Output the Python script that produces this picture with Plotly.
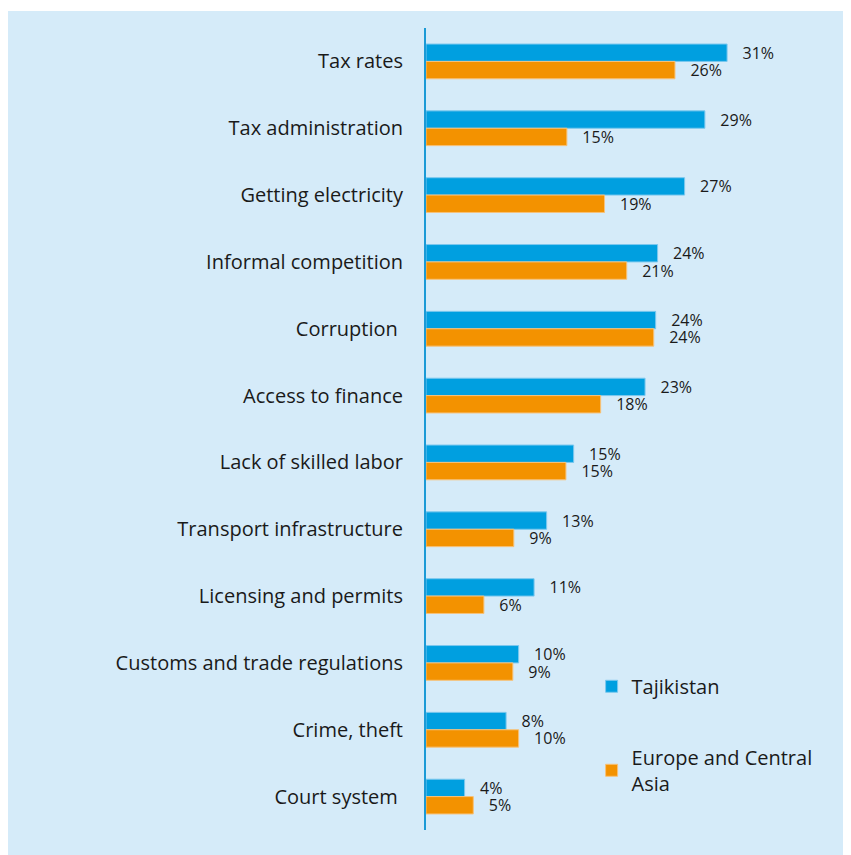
import plotly.graph_objects as go

# Datos (valores estimados de la imagen, en %)
CATEGORIAS = [
    "Tax rates",
    "Tax administration",
    "Getting electricity",
    "Informal competition",
    "Corruption ",
    "Access to finance",
    "Lack of skilled labor",
    "Transport infrastructure",
    "Licensing and permits",
    "Customs and trade regulations",
    "Crime, theft",
    "Court system ",
]
TAJIKISTAN = [31.2, 28.9, 26.8, 24.0, 23.8, 22.7, 15.3, 12.5, 11.2, 9.6, 8.3, 4.0]
EUROPA_ASIA_CENTRAL = [25.8, 14.6, 18.5, 20.8, 23.6, 18.1, 14.5, 9.1, 6.0, 9.0, 9.6, 4.9]

COLOR_AZUL = "#009FE0"
COLOR_NARANJA = "#F39200"
COLOR_FONDO = "#D5EBF9"
FUENTE = "Open Sans"

# la página añade 8px de margen al body
W, H = 843, 847
L, R, T, B = 418, 39, 20, 25
PW = W - L - R
PH = H - T - B

fig = go.Figure()

fig.add_trace(go.Bar(
    y=CATEGORIAS,
    x=TAJIKISTAN,
    orientation="h",
    name="Tajikistan",
    legendgroup="a",
    marker=dict(color=COLOR_AZUL, line=dict(color="#7CC8EE", width=1)),
    texttemplate="   %{x:.0f}%",
    textposition="outside",
    constraintext="none",
    textfont=dict(size=16, color="#1a1a1a", family=FUENTE),
    cliponaxis=False,
))

fig.add_trace(go.Bar(
    y=CATEGORIAS,
    x=EUROPA_ASIA_CENTRAL,
    orientation="h",
    name="Europe and Central<br>Asia",
    legendgroup="b",
    marker=dict(color=COLOR_NARANJA, line=dict(color="#F7C27A", width=1)),
    texttemplate="   %{x:.0f}%",
    textposition="outside",
    constraintext="none",
    textfont=dict(size=16, color="#1a1a1a", family=FUENTE),
    cliponaxis=False,
))

# franja blanca superior
fig.add_shape(
    type="rect", xref="paper", yref="paper", layer="below",
    x0=-2, x1=2, y0=(PH + T - 3) / PH, y1=(PH + T + 5) / PH,
    fillcolor="white", line=dict(width=0),
)

fig.update_layout(
    width=W,
    height=H,
    margin=dict(l=L, r=R, t=T, b=B),
    paper_bgcolor=COLOR_FONDO,
    plot_bgcolor="rgba(0,0,0,0)",
    barmode="group",
    bargap=0.48,
    bargroupgap=0,
    font=dict(family=FUENTE, color="#1a1a1a"),
    xaxis=dict(
        range=[0, 40],
        visible=False,
        showgrid=False,
        zeroline=False,
    ),
    yaxis=dict(
        autorange="reversed",
        showline=True,
        linecolor="#1B9AD6",
        linewidth=2,
        showgrid=False,
        ticks="",
        ticklabelstandoff=17,
        tickfont=dict(size=20, color="#1a1a1a", family=FUENTE),
    ),
    legend=dict(
        x=0.429,
        y=0.2035,
        xanchor="left",
        yanchor="top",
        bgcolor="rgba(0,0,0,0)",
        font=dict(size=20, color="#1a1a1a", family=FUENTE),
        tracegroupgap=42,
        itemwidth=30,
    ),
    showlegend=True,
)

fig.write_html("out.html")
